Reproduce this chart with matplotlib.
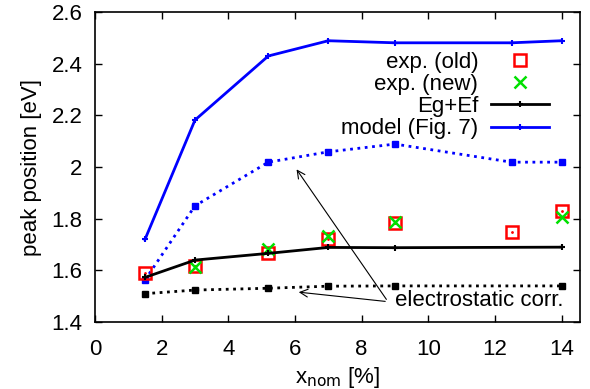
import matplotlib
matplotlib.use("Agg")
import matplotlib.pyplot as plt

plt.rcParams['font.family'] = ['Liberation Sans', 'DejaVu Sans']

# x positions (nominal concentration, %)
x_all = [1.5, 3, 5.2, 7, 9, 12.5, 14]
x_eg = [1.5, 3, 5.2, 7, 9, 14]
x_new = [3, 5.2, 7, 9, 14]

exp_old = [1.591, 1.617, 1.668, 1.72, 1.782, 1.75, 1.83]
exp_new = [1.614, 1.681, 1.733, 1.788, 1.805]
eg_ef = [1.573, 1.64, 1.666, 1.689, 1.688, 1.69]
eg_ef_corr = [1.51, 1.524, 1.531, 1.539, 1.54, 1.54]
model = [1.72, 2.182, 2.43, 2.489, 2.481, 2.481, 2.489]
model_corr = [1.563, 1.85, 2.019, 2.059, 2.089, 2.019, 2.019]

FS = 16

fig = plt.figure(figsize=(5.9, 3.89), dpi=100)
ax = fig.add_axes([0.161, 0.172, 0.822, 0.797])

ax.plot(x_eg, eg_ef_corr, ':', color='black', lw=2, marker='s', ms=4)
ax.plot(x_all, model_corr, ':', color='#0000ff', lw=2, marker='s', ms=4)

ax.plot(x_all, exp_old, ls='none', marker='s', ms=9, mfc='none', mec='#ff0000',
        mew=1.8, label='exp. (old)')
ax.plot(x_all, exp_old, ls='none', marker='.', ms=2, color='#ff0000')
ax.plot(x_new, exp_new, ls='none', marker='x', ms=8, color='#00e000', mew=1.8,
        label='exp. (new)')
ax.plot(x_eg, eg_ef, '-', color='black', lw=2, marker='+', ms=5, mew=1.5,
        label='Eg+Ef')
ax.plot(x_all, model, '-', color='#0000ff', lw=2, marker='+', ms=5, mew=1.5,
        label='model (Fig. 7)')

# annotation for the electrostatic correction
ax.text(9.0, 1.484, 'electrostatic corr.', fontsize=FS, va='center', ha='left')
for target in [(6.0, 2.0), (6.03, 1.517)]:
    ax.annotate('', xy=target, xytext=(8.79, 1.479),
                arrowprops=dict(arrowstyle='->', color='black', lw=0.8,
                                mutation_scale=14))

ax.set_xlim(0, 14.55)
ax.set_ylim(1.4, 2.6)
ax.set_xticks(range(0, 15, 2))
ax.set_yticks([1.4, 1.6, 1.8, 2.0, 2.2, 2.4, 2.6])
ax.set_yticklabels(['1.4', '1.6', '1.8', '2', '2.2', '2.4', '2.6'])
ax.tick_params(direction='in', top=True, right=True, labelsize=FS, length=5,
               width=1, pad=9)
ax.tick_params(axis='x', pad=12)
for s in ax.spines.values():
    s.set_linewidth(1.2)

ax.set_xlabel(r'x$_{\mathrm{nom}}$ [%]', fontsize=FS, labelpad=4)
ax.set_ylabel('peak position [eV]', fontsize=FS, labelpad=7)

ax.legend(loc='upper right', bbox_to_anchor=(0.955, 0.90), frameon=False,
          markerfirst=False, fontsize=FS, handlelength=2.6, handletextpad=0.6,
          labelspacing=0.05, numpoints=1, borderaxespad=0)

fig.savefig('out.png', dpi=100)
